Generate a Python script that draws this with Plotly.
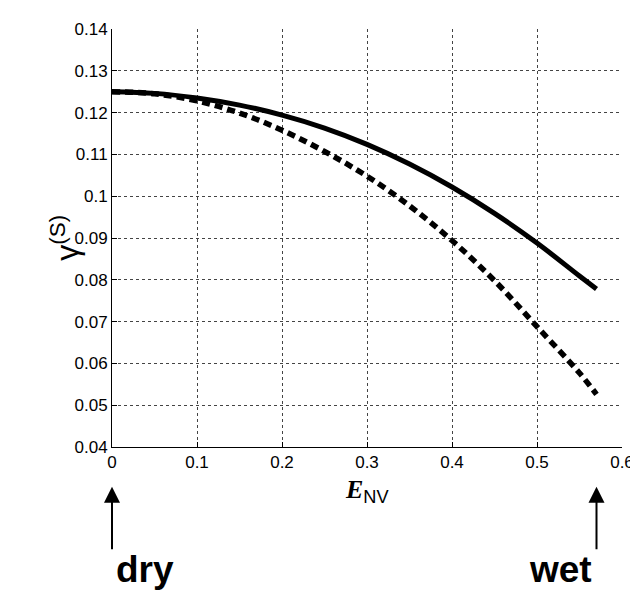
import plotly.graph_objects as go

E_NV = [0, 0.05, 0.1, 0.15, 0.2, 0.25, 0.3, 0.35, 0.4, 0.45, 0.5, 0.55, 0.57]
gamma_solid = [0.125, 0.1246, 0.1235, 0.1218, 0.1194, 0.1163, 0.1124, 0.1077, 0.1022, 0.0959, 0.0888, 0.0809, 0.0778]
gamma_dashed = [0.125, 0.1245, 0.1228, 0.1199, 0.1158, 0.1107, 0.1048, 0.0977, 0.0894, 0.0798, 0.0688, 0.0577, 0.0526]

x_ticks = [0, 0.1, 0.2, 0.3, 0.4, 0.5, 0.6]
x_ticklabels = ["0", "0.1", "0.2", "0.3", "0.4", "0.5", "0.6"]
y_ticks = [0.04, 0.05, 0.06, 0.07, 0.08, 0.09, 0.1, 0.11, 0.12, 0.13, 0.14]
y_ticklabels = ["0.04", "0.05", "0.06", "0.07", "0.08", "0.09", "0.1", "0.11", "0.12", "0.13", "0.14"]

fig = go.Figure()
fig.add_trace(go.Scatter(x=E_NV, y=gamma_solid, mode="lines",
                         line=dict(color="black", width=5, shape="spline", smoothing=1.0),
                         showlegend=False))
fig.add_trace(go.Scatter(x=E_NV, y=gamma_dashed, mode="lines",
                         line=dict(color="black", width=5.5, dash="8px,5px", shape="spline", smoothing=1.0),
                         showlegend=False))

font = "Liberation Sans, Arial, Helvetica, sans-serif"
axis_common = dict(showline=True, linecolor="black", linewidth=1, mirror=False,
                   ticks="inside", ticklen=5, tickcolor="black",
                   showgrid=True, gridcolor="#444", griddash="dot", gridwidth=1,
                   zeroline=False, tickfont=dict(size=17))
fig.update_layout(
    width=638, height=591,
    margin=dict(l=104, r=12, t=17, b=152),
    paper_bgcolor="white", plot_bgcolor="white",
    font=dict(family=font, size=17, color="black"),
    xaxis=dict(range=[0, 0.6], tickvals=x_ticks, ticktext=x_ticklabels, **axis_common),
    yaxis=dict(range=[0.04, 0.14], tickvals=y_ticks, ticktext=y_ticklabels, **axis_common),
)

# axis titles
fig.add_annotation(xref="paper", yref="paper", x=-0.136, y=0.5,
                   text="γ<sup>(S)</sup>", textangle=-90, showarrow=False,
                   font=dict(size=32, family=font))
fig.add_annotation(xref="paper", yref="paper", x=0.5, y=-0.105, yanchor="middle",
                   text="<span style='font-family:Liberation Serif, Times New Roman, serif'><b><i>E</i></b></span><sub>NV</sub>",
                   showarrow=False, font=dict(size=26, family=font))

# arrows
for xv in [0, 0.57]:
    fig.add_annotation(xref="x", yref="paper", x=xv, y=-0.095,
                       ax=0, ay=64, text="", showarrow=True,
                       arrowhead=2, arrowsize=1.6, arrowwidth=2, arrowcolor="black", standoff=0)

fig.add_annotation(xref="paper", yref="paper", x=(106 - 104) / 522, y=-0.347, yanchor="bottom",
                   text="<b>dry</b>", showarrow=False, font=dict(size=37, family=font))
fig.add_annotation(xref="paper", yref="paper", x=(597 - 104) / 522, y=-0.347, yanchor="bottom",
                   text="<b>wet</b>", showarrow=False, font=dict(size=37, family=font))

fig.write_html("out.html")
